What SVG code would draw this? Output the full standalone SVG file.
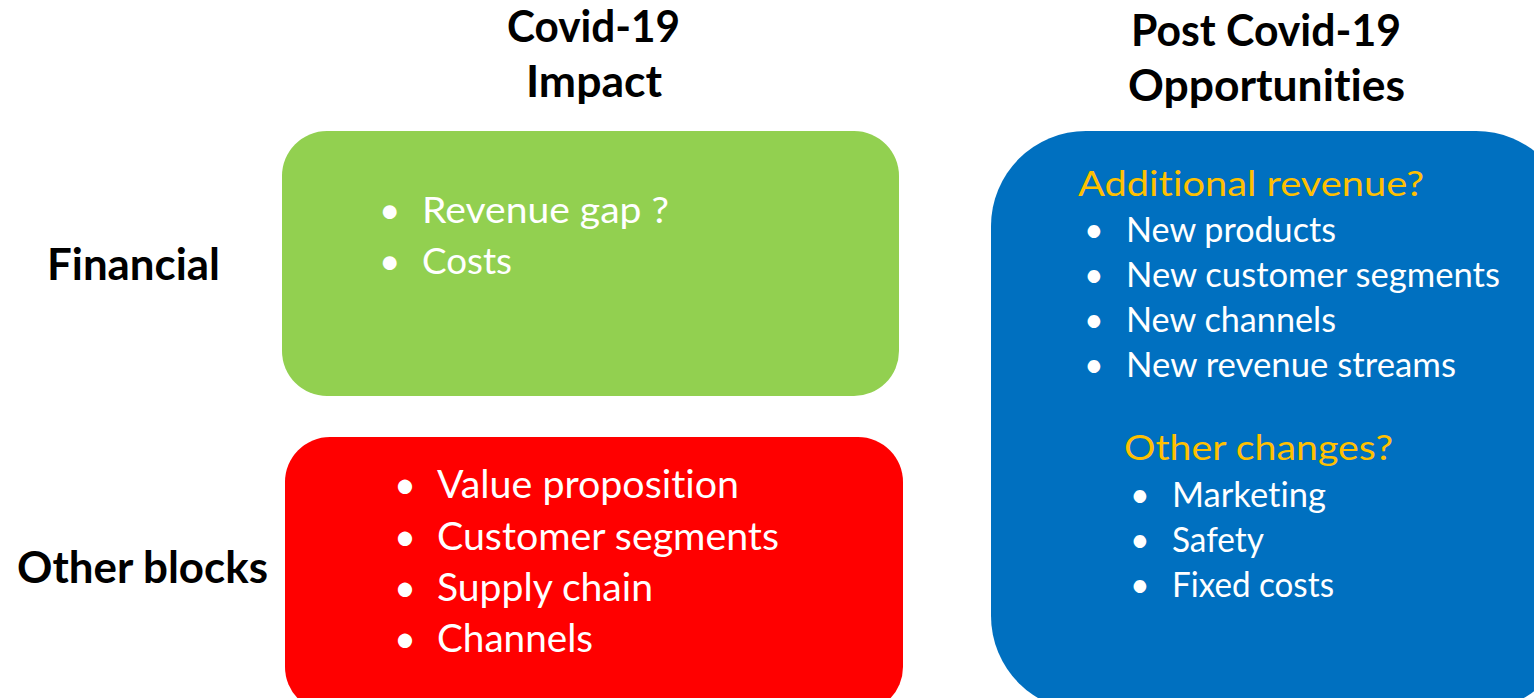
<svg xmlns="http://www.w3.org/2000/svg" width="1534" height="698" viewBox="0 0 1534 698">
<style>
text{font-variant-ligatures:none;font-feature-settings:"liga" 0,"clig" 0,"dlig" 0}
.h{font-family:Lato,"Liberation Sans",sans-serif;font-weight:bold;font-size:44px;fill:#000}
.w{font-family:Lato,"Liberation Sans",sans-serif;fill:#fff}
.y{font-family:Lato,"Liberation Sans",sans-serif;fill:#FFC000}
</style>
<rect width="1534" height="698" fill="#fff"/>
<g id="headers">
<text class="h" x="507" y="42" textLength="173" lengthAdjust="spacingAndGlyphs">Covid-19</text>
<text class="h" x="526" y="97" textLength="136" lengthAdjust="spacingAndGlyphs">Impact</text>
<text class="h" x="1131" y="46" textLength="270" lengthAdjust="spacingAndGlyphs">Post Covid-19</text>
<text class="h" x="1128" y="101" textLength="277" lengthAdjust="spacingAndGlyphs">Opportunities</text>
</g>
<g id="row-labels">
<text class="h" x="47" y="280" textLength="173" lengthAdjust="spacingAndGlyphs">Financial</text>
<text class="h" x="17" y="583" textLength="251" lengthAdjust="spacingAndGlyphs">Other blocks</text>
</g>
<g id="financial">
<rect x="282" y="131" width="617" height="265" rx="45" ry="45" fill="#92D050"/>
<g class="w" font-size="37">
<text x="379" y="223">•</text>
<text x="422" y="223" textLength="247" lengthAdjust="spacingAndGlyphs">Revenue gap ?</text>
<text x="379" y="274">•</text>
<text x="422" y="274" textLength="90" lengthAdjust="spacingAndGlyphs">Costs</text>
</g>
</g>
<g id="other-blocks">
<rect x="285" y="437" width="618" height="275" rx="45" ry="45" fill="#FF0000"/>
<g class="w" font-size="38">
<text x="394" y="498">•</text>
<text x="437" y="498" textLength="302" lengthAdjust="spacingAndGlyphs">Value proposition</text>
<text x="394" y="550">•</text>
<text x="437" y="550" textLength="342" lengthAdjust="spacingAndGlyphs">Customer segments</text>
<text x="394" y="601">•</text>
<text x="437" y="601" textLength="216" lengthAdjust="spacingAndGlyphs">Supply chain</text>
<text x="394" y="652">•</text>
<text x="437" y="652" textLength="156" lengthAdjust="spacingAndGlyphs">Channels</text>
</g>
</g>
<g id="opportunities">
<rect x="991" y="131" width="580" height="580" rx="95" ry="95" fill="#0070C0"/>
<text class="y" font-size="35" x="1078" y="196" textLength="346" lengthAdjust="spacingAndGlyphs">Additional revenue?</text>
<g class="w" font-size="34">
<text x="1084" y="242">•</text>
<text x="1126" y="242" textLength="210" lengthAdjust="spacingAndGlyphs">New products</text>
<text x="1084" y="287">•</text>
<text x="1126" y="287" textLength="374" lengthAdjust="spacingAndGlyphs">New customer segments</text>
<text x="1084" y="332">•</text>
<text x="1126" y="332" textLength="210" lengthAdjust="spacingAndGlyphs">New channels</text>
<text x="1084" y="377">•</text>
<text x="1126" y="377" textLength="330" lengthAdjust="spacingAndGlyphs">New revenue streams</text>
</g>
<text class="y" font-size="35" x="1124" y="460" textLength="269" lengthAdjust="spacingAndGlyphs">Other changes?</text>
<g class="w" font-size="34">
<text x="1130" y="507">•</text>
<text x="1172" y="507" textLength="154" lengthAdjust="spacingAndGlyphs">Marketing</text>
<text x="1130" y="552">•</text>
<text x="1172" y="552" textLength="92" lengthAdjust="spacingAndGlyphs">Safety</text>
<text x="1130" y="597">•</text>
<text x="1172" y="597" textLength="162" lengthAdjust="spacingAndGlyphs">Fixed costs</text>
</g>
</g>
<g id="connectors"/>
</svg>
